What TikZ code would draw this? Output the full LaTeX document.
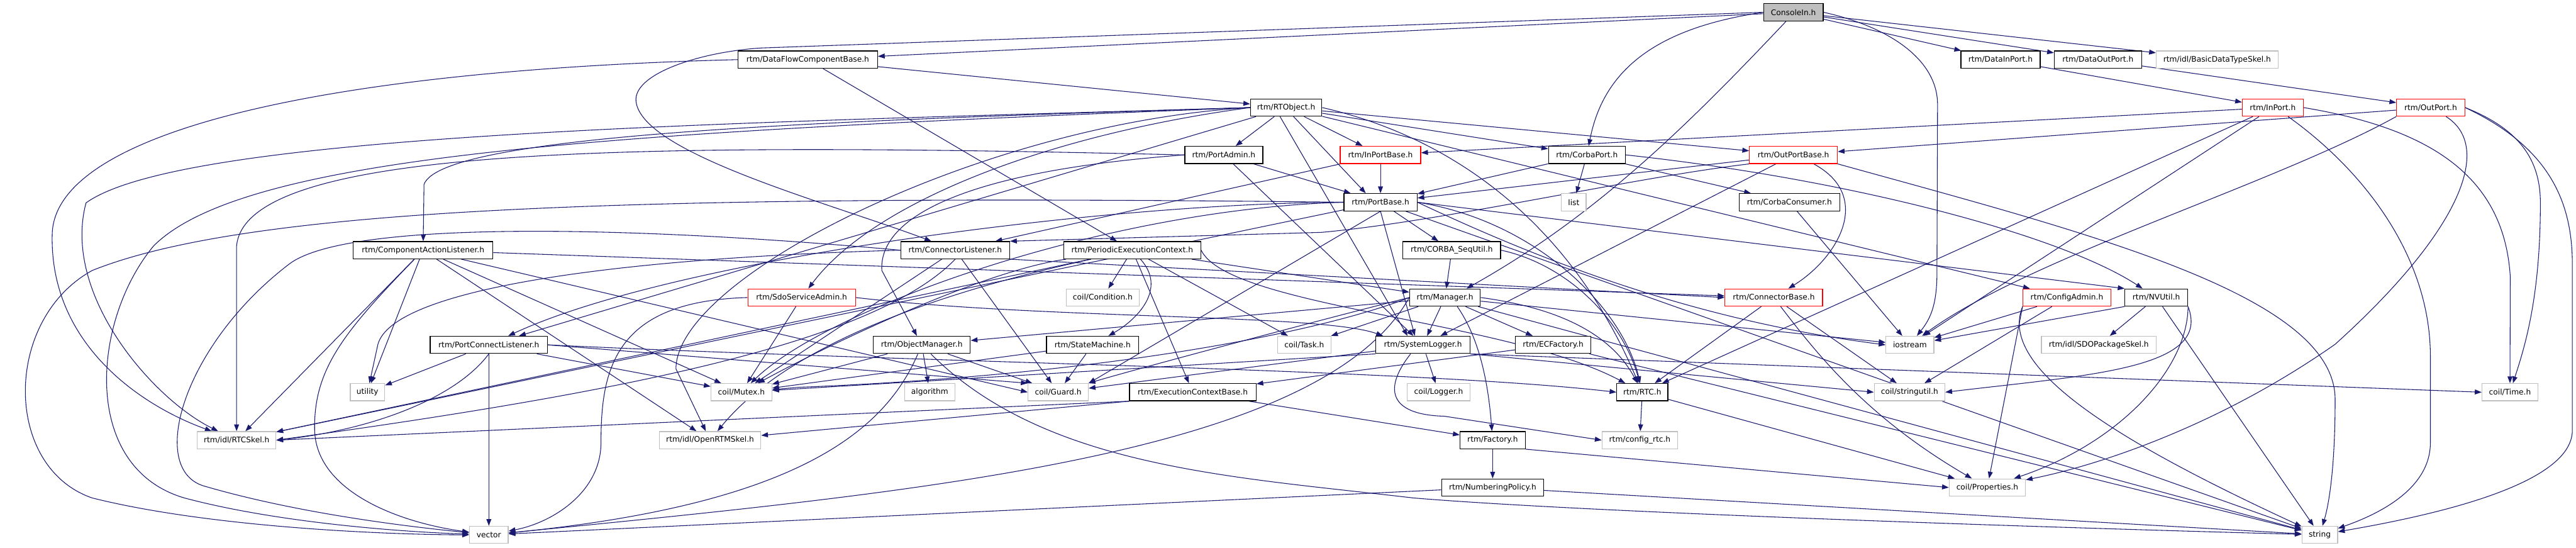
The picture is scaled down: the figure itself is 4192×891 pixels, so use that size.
\documentclass[tikz,border=0pt]{standalone}
\usepackage{fontspec}
\setmainfont{DejaVu Sans}
\usetikzlibrary{arrows.meta}
\definecolor{edgecol}{HTML}{191970}
\definecolor{greyb}{HTML}{BFBFBF}
\pgfdeclarelayer{bg}
\pgfsetlayers{bg,main}
\tikzset{
 nd/.style={draw=black, line width=1.3pt, fill=white, minimum height=28pt, inner sep=0pt, font=\fontsize{12.5pt}{15pt}\selectfont},
 rd/.style={nd, draw=red},
 gy/.style={nd, draw=greyb},
 rootnd/.style={nd, fill=greyb},
 ed/.style={draw=edgecol, line width=1.1pt, -{Triangle[length=11pt,width=8pt]}},
}
\begin{document}
\begin{tikzpicture}[x=1pt,y=-1pt]
\useasboundingbox (0,0) rectangle (4192,891);
\node[rootnd, minimum width=97pt] (consolein) at (2918.5,20) {ConsoleIn.h};
\node[nd, minimum width=227pt] (dfcb) at (1314.5,97) {rtm/DataFlowComponentBase.h};
\node[nd, minimum width=129pt] (datainport) at (3255.5,97) {rtm/DataInPort.h};
\node[nd, minimum width=142pt] (dataoutport) at (3414,97) {rtm/DataOutPort.h};
\node[gy, minimum width=198pt] (basicskel) at (3608,97) {rtm/idl/BasicDataTypeSkel.h};
\node[nd, minimum width=116pt] (rtobject) at (2093,175) {rtm/RTObject.h};
\node[rd, minimum width=99pt] (inport) at (3698.5,175) {rtm/InPort.h};
\node[rd, minimum width=111pt] (outport) at (3955.5,175) {rtm/OutPort.h};
\node[nd, minimum width=127pt] (portadmin) at (1991.5,252) {rtm/PortAdmin.h};
\node[rd, minimum width=131pt] (inportbase) at (2246.5,252) {rtm/InPortBase.h};
\node[nd, minimum width=125pt] (corbaport) at (2582.5,252) {rtm/CorbaPort.h};
\node[rd, minimum width=143pt] (outportbase) at (2918.5,252) {rtm/OutPortBase.h};
\node[nd, minimum width=119pt] (portbase) at (2246.5,329) {rtm/PortBase.h};
\node[gy, minimum width=40pt] (list) at (2561,329) {list};
\node[nd, minimum width=164pt] (corbaconsumer) at (2912,329) {rtm/CorbaConsumer.h};
\node[nd, minimum width=227pt] (compaction) at (688.5,407) {rtm/ComponentActionListener.h};
\node[nd, minimum width=177pt] (connlistener) at (1554.5,407) {rtm/ConnectorListener.h};
\node[nd, minimum width=223pt] (periodicec) at (1842.5,407) {rtm/PeriodicExecutionContext.h};
\node[nd, minimum width=159pt] (corbasequtil) at (2362.5,407) {rtm/CORBA\_SeqUtil.h};
\node[rd, minimum width=175pt] (sdoservice) at (1304.5,484) {rtm/SdoServiceAdmin.h};
\node[gy, minimum width=119pt] (condition) at (1794.5,484) {coil/Condition.h};
\node[nd, minimum width=115pt] (manager) at (2351.5,484) {rtm/Manager.h};
\node[rd, minimum width=159pt] (connectorbase) at (2886.5,484) {rtm/ConnectorBase.h};
\node[rd, minimum width=143pt] (configadmin) at (3363.5,484) {rtm/ConfigAdmin.h};
\node[nd, minimum width=102pt] (nvutil) at (3509,484) {rtm/NVUtil.h};
\node[nd, minimum width=191pt] (portconnlistener) at (795.5,561) {rtm/PortConnectListener.h};
\node[nd, minimum width=158pt] (objectmanager) at (1500,561) {rtm/ObjectManager.h};
\node[nd, minimum width=150pt] (statemachine) at (1778,561) {rtm/StateMachine.h};
\node[gy, minimum width=87pt] (task) at (2122.5,561) {coil/Task.h};
\node[nd, minimum width=153pt] (systemlogger) at (2315.5,561) {rtm/SystemLogger.h};
\node[nd, minimum width=123pt] (ecfactory) at (2527.5,561) {rtm/ECFactory.h};
\node[gy, minimum width=78pt] (iostream) at (3108,561) {iostream};
\node[gy, minimum width=187pt] (sdopackageskel) at (3415.5,561) {rtm/idl/SDOPackageSkel.h};
\node[gy, minimum width=56pt] (utility) at (598,638) {utility};
\node[gy, minimum width=99pt] (mutex) at (1206.5,638) {coil/Mutex.h};
\node[gy, minimum width=82pt] (algorithm) at (1513,638) {algorithm};
\node[gy, minimum width=98pt] (guard) at (1722,638) {coil/Guard.h};
\node[nd, minimum width=206pt] (ecbase) at (1941,638) {rtm/ExecutionContextBase.h};
\node[gy, minimum width=102pt] (logger) at (2341,638) {coil/Logger.h};
\node[nd, minimum width=83pt] (rtc) at (2672.5,638) {rtm/RTC.h};
\node[gy, minimum width=115pt] (stringutil) at (3107.5,638) {coil/stringutil.h};
\node[gy, minimum width=91pt] (time) at (4084.5,638) {coil/Time.h};
\node[gy, minimum width=128pt] (rtcskel) at (385,716) {rtm/idl/RTCSkel.h};
\node[gy, minimum width=165pt] (openrtmskel) at (1155.5,716) {rtm/idl/OpenRTMSkel.h};
\node[nd, minimum width=106pt] (factory) at (2429,716) {rtm/Factory.h};
\node[gy, minimum width=123pt] (configrtc) at (2668.5,716) {rtm/config\_rtc.h};
\node[nd, minimum width=166pt] (numbering) at (2429,793) {rtm/NumberingPolicy.h};
\node[gy, minimum width=124pt] (properties) at (3234,793) {coil/Properties.h};
\node[gy, minimum width=63pt] (vector) at (795.5,870) {vector};
\node[gy, minimum width=58pt] (string) at (3775,870) {string};
\begin{pgfonlayer}{bg}
\fill[white] (0,0) rectangle (4192,891);
% ConsoleIn
\draw[ed] (consolein) -- (dfcb);
\draw[ed] (consolein.west) -- (1240,78) .. controls (1140,84) and (1030,120) .. (1035,165) .. controls (1045,250) and (1350,330) .. (connlistener);
\draw[ed] (consolein.west) .. controls (2700,45) and (2610,110) .. (corbaport);
\draw[ed] ([xshift=-12pt]consolein.south) .. controls (2750,200) and (2600,350) .. ([xshift=35pt]manager.north);
\draw[ed] (consolein) -- (datainport);
\draw[ed] (consolein) -- (dataoutport);
\draw[ed] (consolein) -- (basicskel);
\draw[ed] (consolein.east) .. controls (3080,45) and (3153,100) .. (3153,170) -- (3152,450) .. controls (3151,500) and (3140,520) .. (iostream);
\draw[ed] (datainport) -- (inport);
\draw[ed] (dataoutport) -- (outport);
% DataFlowComponentBase
\draw[ed] (dfcb) -- (rtobject);
\draw[ed] (dfcb) -- (periodicec);
\draw[ed] (dfcb.west) .. controls (500,115) and (90,220) .. (85,380) .. controls (80,560) and (230,660) .. (rtcskel);
% RTObject
\draw[ed] (rtobject) -- (portadmin);
\draw[ed] (rtobject) -- (inportbase);
\draw[ed] ([xshift=12pt]rtobject.south) -- ([xshift=-24pt]portbase.north);
\draw[ed] (rtobject) -- (corbaport);
\draw[ed] (rtobject) -- (outportbase);
\draw[ed] (rtobject.west) .. controls (1400,195) and (720,215) .. (690,300) -- (compaction);
\draw[ed] (rtobject.west) .. controls (1700,220) and (1420,330) .. (sdoservice);
\draw[ed] (rtobject) -- (configadmin);
\draw[ed] (rtobject) -- (portconnlistener);
\draw[ed] ([xshift=-10pt]rtobject.south) -- ([xshift=-25pt]systemlogger.north);
\draw[ed] (rtobject.east) .. controls (2350,220) and (2550,350) .. (rtc);
\draw[ed] (rtobject.west) .. controls (1200,200) and (300,215) .. (140,330) .. controls (100,480) and (250,650) .. (rtcskel);
\draw[ed] (rtobject.west) .. controls (1600,200) and (1100,450) .. (1100,600) -- (openrtmskel);
\draw[ed] (rtobject.west) .. controls (1000,215) and (400,250) .. (250,400) .. controls (150,520) and (130,760) .. (300,810) .. controls (450,850) and (650,865) .. (vector);
% PortAdmin
\draw[ed] (portadmin) -- (portbase);
\draw[ed] (portadmin.west) .. controls (1550,280) and (1430,360) .. (1435,440) -- (objectmanager);
\draw[ed] (portadmin.west) .. controls (1000,230) and (400,240) .. (385,400) -- (rtcskel);
\draw[ed] (portadmin) -- (systemlogger);
% InPortBase, CorbaPort, OutPortBase
\draw[ed] (inportbase) -- (portbase);
\draw[ed] (inportbase) -- (connlistener);
\draw[ed] (corbaport) -- (list);
\draw[ed] (corbaport) -- (portbase);
\draw[ed] (corbaport) -- (corbaconsumer);
\draw[ed] (corbaport.east) .. controls (3000,290) and (3350,380) .. (nvutil);
\draw[ed] (outportbase) -- (portbase);
\draw[ed] (outportbase.south west) .. controls (2650,290) and (2350,360) .. (2150,378) -- (connlistener.north east);
\draw[ed] ([xshift=33pt]outportbase.south) .. controls (3050,320) and (2990,420) .. (connectorbase);
\draw[ed] (outportbase) -- (systemlogger);
\draw[ed] (outportbase.south east) .. controls (3400,380) and (3800,480) .. (3800,650) .. controls (3800,760) and (3790,820) .. (string);
% PortBase
\draw[ed] (portbase) -- (corbasequtil);
\draw[ed] (portbase.south) -- ([xshift=-13pt]systemlogger.north);
\draw[ed] (portbase.west) .. controls (1800,330) and (1100,420) .. (portconnlistener);
\draw[ed] (portbase) -- (rtcskel);
\draw[ed] (portbase.west) .. controls (1800,340) and (1350,500) .. (mutex);
\draw[ed] (portbase.south) -- (guard.north east);
\draw[ed] (portbase.east) .. controls (2500,360) and (2640,500) .. (rtc);
\draw[ed] (portbase.east) -- (nvutil.north west);
\draw[ed] (portbase.east) .. controls (2500,420) and (2750,520) .. (iostream.west);
\draw[ed] (portbase) -- (string);
\draw[ed] (portbase.west) .. controls (1000,315) and (400,340) .. (150,440) .. controls (5,520) and (5,760) .. (150,810) .. controls (350,860) and (650,870) .. (vector);
% ComponentActionListener
\draw[ed] (compaction) .. controls (560,540) and (510,600) .. (512,700) .. controls (515,800) and (650,850) .. (vector);
\draw[ed] (compaction) -- (rtcskel);
\draw[ed] (compaction) -- (utility);
\draw[ed] (compaction) -- (mutex);
\draw[ed] (compaction) -- (guard.west);
\draw[ed] (compaction) -- (connectorbase);
\draw[ed] (compaction) -- (openrtmskel);
% ConnectorListener
\draw[ed] (connlistener.west) .. controls (1000,365) and (560,360) .. (470,430) .. controls (300,560) and (240,760) .. (330,790) .. controls (500,840) and (700,860) .. (vector);
\draw[ed] (connlistener.west) .. controls (1000,420) and (640,470) .. (615,560) -- (utility);
\draw[ed] (connlistener) -- (mutex);
\draw[ed] (connlistener) -- (guard);
\draw[ed] (connlistener.south east) -- (connectorbase.west);
\draw[ed] (connlistener.south) .. controls (1420,560) and (1000,640) .. (rtcskel.east);
% PeriodicExecutionContext
\draw[ed] (periodicec) -- (condition);
\draw[ed] (periodicec) .. controls (1900,470) and (1850,520) .. (statemachine);
\draw[ed] (periodicec) -- (ecbase);
\draw[ed] (periodicec) -- (task);
\draw[ed] (periodicec) -- (manager);
\draw[ed] (periodicec.east) .. controls (2000,500) and (2450,520) .. (rtc);
\draw[ed] (periodicec) .. controls (1600,440) and (1350,560) .. (mutex);
\draw[ed] (periodicec) -- (rtcskel);
\draw[ed] (periodicec) .. controls (1600,460) and (1300,540) .. (openrtmskel);
% CORBA_SeqUtil, SdoServiceAdmin
\draw[ed] (corbasequtil) -- (manager);
\draw[ed] (corbasequtil.east) .. controls (2550,430) and (2640,520) .. (rtc);
\draw[ed] (sdoservice) -- (mutex);
\draw[ed] (sdoservice.east) .. controls (1700,520) and (2150,510) .. ([xshift=-65pt]systemlogger.north);
\draw[ed] (sdoservice.west) .. controls (1000,490) and (978,600) .. (978,720) .. controls (978,800) and (900,850) .. (vector);
% Manager
\draw[ed] (manager) -- (objectmanager);
\draw[ed] (manager) -- (task);
\draw[ed] (manager) -- (systemlogger);
\draw[ed] (manager) -- (ecfactory);
\draw[ed] ([xshift=20pt]manager.south) .. controls (2400,540) and (2420,600) .. (factory);
\draw[ed] (manager.east) .. controls (2530,500) and (2620,540) .. (rtc);
\draw[ed] (manager.west) .. controls (2150,540) and (1800,610) .. (1300,630) -- (mutex);
\draw[ed] (manager.west) .. controls (2150,520) and (1850,600) .. (guard);
\draw[ed] (manager) -- (iostream);
\draw[ed] (manager) -- (string);
\draw[ed] (manager.west) .. controls (2150,740) and (1500,800) .. (vector);
% ConnectorBase, ConfigAdmin, NVUtil
\draw[ed] (connectorbase) -- (rtc);
\draw[ed] (connectorbase) .. controls (2960,580) and (3040,680) .. (properties);
\draw[ed] (connectorbase) -- (stringutil);
\draw[ed] (configadmin) -- (iostream);
\draw[ed] (configadmin) -- (stringutil);
\draw[ed] (configadmin.south west) -- (properties);
\draw[ed] (configadmin.south west) .. controls (3250,600) and (3450,720) .. (string);
\draw[ed] (nvutil) -- (sdopackageskel);
\draw[ed] (nvutil.south west) -- (iostream);
\draw[ed] (nvutil.south east) .. controls (3600,600) and (3400,610) .. (stringutil.east);
\draw[ed] (nvutil.south east) .. controls (3560,600) and (3450,720) .. (properties);
\draw[ed] (nvutil) -- (string);
% PortConnectListener
\draw[ed] (portconnlistener) -- (vector);
\draw[ed] (portconnlistener) -- (utility);
\draw[ed] (portconnlistener) -- (mutex);
\draw[ed] (portconnlistener.east) -- (guard.north west);
\draw[ed] (portconnlistener.east) .. controls (1500,590) and (2300,600) .. (rtc.west);
\draw[ed] (portconnlistener.south) .. controls (740,650) and (600,700) .. (rtcskel.east);
% ObjectManager, StateMachine
\draw[ed] (objectmanager) -- (algorithm);
\draw[ed] (objectmanager) -- (guard);
\draw[ed] (objectmanager) -- (mutex);
\draw[ed] (objectmanager) .. controls (1440,700) and (1300,820) .. (vector);
\draw[ed] (objectmanager) .. controls (1700,760) and (2000,775) .. (2300,810) .. controls (2600,835) and (3400,860) .. (string);
\draw[ed] (statemachine) -- (guard);
\draw[ed] (statemachine) -- (mutex);
% SystemLogger
\draw[ed] (systemlogger) -- (logger);
\draw[ed] ([xshift=-20pt]systemlogger.south) .. controls (2245,640) and (2270,675) .. (2350,677) -- (configrtc.west);
\draw[ed] (systemlogger.south west) -- (mutex);
\draw[ed] (systemlogger) -- (guard);
\draw[ed] (systemlogger.south east) -- (time.west);
\draw[ed] (systemlogger.south east) -- (stringutil.west);
% ECFactory, ExecutionContextBase, RTC, Factory, NumberingPolicy
\draw[ed] (ecfactory) -- (ecbase);
\draw[ed] (ecfactory) -- (string);
\draw[ed] (ecbase.south west) -- (rtcskel.east);
\draw[ed] (ecbase.south west) -- (openrtmskel);
\draw[ed] (ecbase) -- (factory);
\draw[ed] (rtc) -- (configrtc);
\draw[ed] (rtc) -- (properties);
\draw[ed] (factory) -- (numbering);
\draw[ed] (factory.south east) -- (properties.west);
\draw[ed] (numbering) -- (vector);
\draw[ed] (numbering) -- (string);
% InPort
\draw[ed] (inport) -- (inportbase);
\draw[ed] (inport) -- (iostream);
\draw[ed] (inport) -- (rtc);
\draw[ed] ([xshift=25pt]inport.south) .. controls (3850,280) and (3955,420) .. (3955,580) -- (3955,720) .. controls (3955,800) and (3860,840) .. (string);
\draw[ed] (inport.east) .. controls (3960,210) and (4075,290) .. (4085,450) -- (time);
% OutPort
\draw[ed] (outport) -- (outportbase);
\draw[ed] (outport.south west) .. controls (3700,300) and (3300,420) .. (iostream);
\draw[ed] (outport.east) .. controls (4100,210) and (4134,260) .. (4134,330) .. controls (4134,480) and (4110,560) .. (time);
\draw[ed] (outport.east) .. controls (4150,240) and (4186,330) .. (4186,430) -- (4186,700) .. controls (4186,790) and (3950,840) .. (string);
\draw[ed] ([xshift=25pt]outport.south) .. controls (4060,240) and (4000,380) .. (3800,560) .. controls (3600,700) and (3400,760) .. (properties);
% CorbaConsumer
\draw[ed] (corbaconsumer) -- (iostream);
\end{pgfonlayer}
\end{tikzpicture}
\end{document}
